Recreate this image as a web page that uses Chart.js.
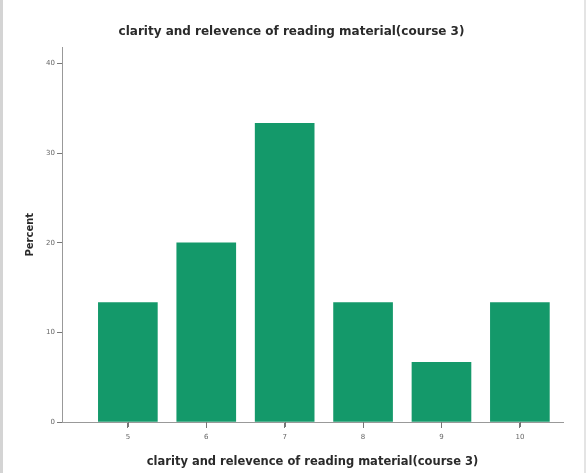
<!DOCTYPE html>
<html><head><meta charset="utf-8">
<script src="https://cdn.jsdelivr.net/npm/chart.js@4"></script>
<style>html,body{margin:0;padding:0;background:#fff}#wrap{width:586px;height:473px;position:relative;box-sizing:border-box;border-left:3px solid #d4d4d4;border-right:2px solid #e4e4e4}</style>
</head><body><div id="wrap"><canvas id="c" width="581" height="473"></canvas></div>
<script>
const categories = [5, 6, 7, 8, 9, 10];
const percents = [13.33, 20.0, 33.33, 13.33, 6.67, 13.33];
const yTicks = [0, 10, 20, 30, 40];
const titleText = 'clarity and relevence of reading material(course 3)';
const xTitle = 'clarity and relevence of reading material(course 3)';
const yTitle = 'Percent';

const gray = '#777';
const xTickMarks = {
  id: 'xTickMarks',
  afterDraw(chart) {
    const s = chart.scales.x, ctx = chart.ctx;
    ctx.save();
    ctx.strokeStyle = gray; ctx.lineWidth = 1;
    s.ticks.forEach(t => {
      const px = Math.round(s.getPixelForValue(t.value)) + 0.5;
      ctx.beginPath(); ctx.moveTo(px, s.top); ctx.lineTo(px, s.top + 5); ctx.stroke();
    });
    ctx.restore();
  }
};
new Chart(document.getElementById('c'), {
  type: 'bar',
  data: { datasets: [{
    data: categories.map((c, i) => ({ x: c, y: percents[i] })),
    backgroundColor: '#14996a',
    borderWidth: 0,
    barThickness: 59
  }]},
  plugins: [xTickMarks],
  options: {
    responsive: false, animation: false,
    layout: { padding: { left: 17, right: 21, top: 0, bottom: 0 } },
    plugins: {
      legend: { display: false }, tooltip: { enabled: false },
      title: { display: true, text: titleText, color: '#2a2a2a',
        font: { family: 'DejaVu Sans', size: 12, weight: 'bold' },
        padding: { top: 25, bottom: 8 } }
    },
    scales: {
      x: { type: 'linear', min: 4.16, max: 10.55, offset: false,
        afterBuildTicks: s => { s.ticks = categories.map(v => ({ value: v })); },
        afterFit: s => { s.height = 51; },
        border: { color: '#999', width: 1 },
        grid: { display: true, offset: false, drawOnChartArea: false, drawTicks: true, tickLength: 6, color: gray, tickColor: gray },
        ticks: { color: '#666', font: { family: 'DejaVu Sans', size: 7 }, padding: 5 },
        title: { display: true, text: xTitle, color: '#2a2a2a',
          font: { family: 'DejaVu Sans', size: 11.5, weight: 'bold' }, padding: { top: 4 } }
      },
      y: { min: 0, max: 41.8,
        afterBuildTicks: s => { s.ticks = yTicks.map(v => ({ value: v })); },
        afterFit: s => { s.width = 42; },
        border: { color: '#999', width: 1 },
        grid: { display: true, drawOnChartArea: false, tickLength: 5, color: gray },
        ticks: { color: '#666', font: { family: 'DejaVu Sans', size: 7 }, padding: 2 },
        title: { display: true, text: yTitle, color: '#2a2a2a',
          font: { family: 'DejaVu Sans', size: 10, weight: 'bold' }, padding: { bottom: 6 } }
      }
    }
  }
});
</script></body></html>
